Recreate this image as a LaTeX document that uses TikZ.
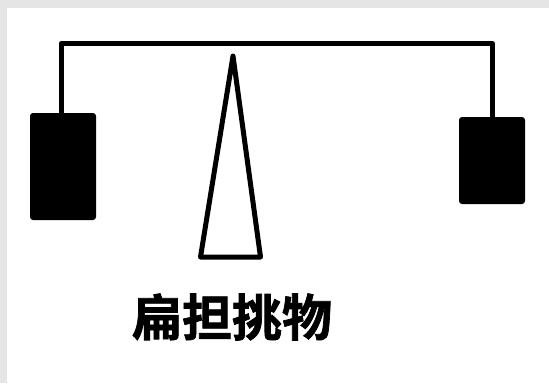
\documentclass[tikz,border=0pt]{standalone}
\usepackage{fontspec}
\newfontfamily\cjkbold[FakeBold=1.5]{Noto Sans CJK SC Bold}
\usetikzlibrary{positioning}

\begin{document}
\begin{tikzpicture}[x=1pt, y=-1pt, line width=5pt,
        every node/.append style={inner sep=0pt, outer sep=0pt}]
      \tikzstyle{load} = [draw=none, fill=black, rounded corners=3pt, minimum width=66pt]
      \tikzstyle{rope} = [draw, line join=round]
      % page with the grey strip at top and left
      \fill[gray!20] (0,0) rectangle (549,383);
      \fill[white] (7,7.5) rectangle (549,383);
      \useasboundingbox (0,0) rectangle (549,383);
      % the two loads
      \node (leftload) [load, minimum height=107pt] at (63,166.5) {};
      \node (rightload) [load, minimum height=87pt] at (492,160.5) {};
      % the pole over both loads
      \coordinate (leftend) at (61,43.5);
      \coordinate (rightend) at (492.5,43.5);
      \draw[rope] ([xshift=-2pt]leftload.north) -- (leftend) -- (rightend)
        -- (rightend |- rightload.north);
      % fulcrum
      \coordinate (tip) at (233,56);
      \draw[line join=round] (tip) -- (200.5,257) -- (260.5,257) -- cycle;
      \node (caption) at (232,317) {\cjkbold\fontsize{50}{50}\selectfont 扁担挑物};
\end{tikzpicture}
\end{document}
